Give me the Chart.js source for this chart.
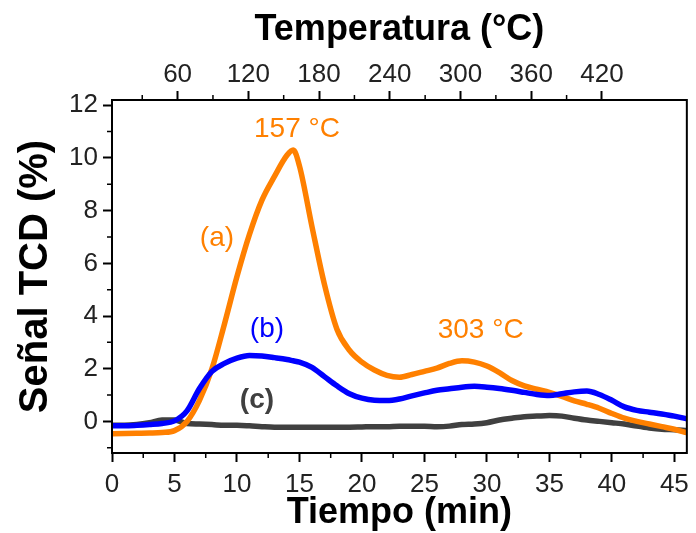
<!DOCTYPE html>
<html>
<head>
<meta charset="utf-8">
<script src="https://cdn.jsdelivr.net/npm/chart.js@4.4.0/dist/chart.umd.min.js"></script>
<style>
  body { margin: 0; background: #fff; }
  #wrap { width: 696px; height: 533px; }
</style>
</head>
<body>
<div id="wrap"><canvas id="tcd" width="696" height="533"></canvas></div>
<script>
// tiempo (min) y señal TCD (%)
var tiempo = [0, 1, 2, 3, 4, 5, 6, 7, 8, 9, 10, 11, 12, 13, 14, 14.5, 15, 16, 17, 18, 19, 20, 21, 22, 23,
  24, 25, 26, 27, 28, 29, 30, 31, 32, 33, 34, 35, 36, 37, 38, 39, 40, 41, 42, 43, 44, 45, 46]
// (a)
var senalA = [-0.47, -0.46, -0.45, -0.44, -0.42, -0.35, 0.0, 0.8, 2.0, 3.7, 5.5, 7.1, 8.4, 9.3, 10.1, 10.3, 9.7,
  7.4, 5.2, 3.5, 2.7, 2.25, 1.95, 1.75, 1.68, 1.78, 1.9, 2.02, 2.2, 2.3, 2.25, 2.1, 1.85, 1.55, 1.35, 1.22, 1.1,
  0.95, 0.78, 0.65, 0.5, 0.3, 0.12, 0.0, -0.1, -0.2, -0.3, -0.43]
// (b)
var senalB = [-0.17, -0.17, -0.15, -0.12, -0.08, 0.02, 0.4, 1.25, 1.9, 2.2, 2.4, 2.5, 2.48, 2.42, 2.35, 2.3, 2.25,
  2.05, 1.7, 1.35, 1.05, 0.88, 0.8, 0.79, 0.85, 0.97, 1.08, 1.18, 1.24, 1.3, 1.33, 1.3, 1.25, 1.18, 1.1, 1.02, 0.98,
  1.05, 1.12, 1.15, 1.02, 0.8, 0.55, 0.42, 0.35, 0.28, 0.2, 0.1]
// (c)
var senalC = [-0.15, -0.15, -0.12, -0.05, 0.05, 0.05, -0.08, -0.1, -0.12, -0.15, -0.15, -0.17, -0.2, -0.22, -0.22,
  -0.22, -0.22, -0.22, -0.22, -0.22, -0.22, -0.21, -0.2, -0.2, -0.18, -0.18, -0.18, -0.2, -0.18, -0.12, -0.1, -0.05,
  0.05, 0.12, 0.18, 0.2, 0.22, 0.2, 0.12, 0.05, 0.0, -0.05, -0.1, -0.18, -0.25, -0.3, -0.32, -0.35]

var tiempoTicks = [0, 5, 10, 15, 20, 25, 30, 35, 40, 45]
var tempTicks = [60, 120, 180, 240, 300, 360, 420]
var senalTicks = [0, 2, 4, 6, 8, 10, 12]

// etiquetas sobre las curvas, en coordenadas de datos
var etiquetas = [
  { text: '157 °C', t: 14.8, v: 11.1, color: '#FF8000', bold: false },
  { text: '(a)', t: 8.4, v: 6.95, color: '#FF8000', bold: false },
  { text: '(b)', t: 12.4, v: 3.5, color: '#0000FF', bold: false },
  { text: '(c)', t: 11.6, v: 0.8, color: '#404040', bold: true },
  { text: '303 °C', t: 29.5, v: 3.45, color: '#FF8000', bold: false }
]

function puntos (ys) {
  return tiempo.map(function (t, i) { return { x: t, y: ys[i] } })
}
function fijar (lista) {
  return function (sc) { sc.ticks = lista.map(function (v) { return { value: v } }) }
}

var FUENTE = "'Liberation Sans', Arial, sans-serif"
Chart.defaults.font.family = FUENTE
Chart.defaults.color = '#222'

var marcas = {
  id: 'marcas',
  afterDatasetsDraw: function (chart) {
    var ctx = chart.ctx
    var s = chart.scales
    ctx.save()
    ctx.textAlign = 'center'
    ctx.textBaseline = 'middle'
    etiquetas.forEach(function (e) {
      ctx.font = (e.bold ? 'bold ' : '') + '28px ' + FUENTE
      ctx.fillStyle = e.color
      ctx.fillText(e.text, s.x.getPixelForValue(e.t), s.y.getPixelForValue(e.v))
    })
    ctx.restore()
  },
  afterDraw: function (chart) {
    var ctx = chart.ctx
    var a = chart.chartArea
    var s = chart.scales
    var px, py, t, v, T
    ctx.save()
    ctx.strokeStyle = '#000'
    ctx.lineWidth = 2
    ctx.strokeRect(a.left, a.top, a.right - a.left, a.bottom - a.top)
    // marcas menores
    ctx.lineWidth = 1.5
    ctx.beginPath()
    for (t = 2.5; t < 46; t += 5) {
      px = s.x.getPixelForValue(t)
      ctx.moveTo(px, a.bottom); ctx.lineTo(px, a.bottom + 5)
    }
    for (v = -1; v < 12; v += 2) {
      py = s.y.getPixelForValue(v)
      ctx.moveTo(a.left, py); ctx.lineTo(a.left - 5, py)
    }
    for (T = 30; T < 420; T += 60) {
      px = s.x2.getPixelForValue(T)
      ctx.moveTo(px, a.top); ctx.lineTo(px, a.top - 5)
    }
    ctx.stroke()
    ctx.restore()
  }
}

new Chart(document.getElementById('tcd'), {
  type: 'line',
  data: {
    datasets: [
      { label: '(b)', data: puntos(senalB), borderColor: '#0000FF' },
      { label: '(a)', data: puntos(senalA), borderColor: '#FF8000' },
      { label: '(c)', data: puntos(senalC), borderColor: '#404040' }
    ]
  },
  options: {
    responsive: false,
    animation: false,
    layout: { padding: { left: 0, right: 5, top: 0, bottom: 0 } },
    elements: {
      point: { radius: 0 },
      line: { borderWidth: 5.5, cubicInterpolationMode: 'monotone' }
    },
    plugins: { legend: { display: false }, tooltip: { enabled: false } },
    scales: {
      x: {
        type: 'linear',
        position: 'bottom',
        min: 0,
        max: 46,
        afterBuildTicks: fijar(tiempoTicks),
        afterFit: function (sc) { sc.height = 80 },
        ticks: { font: { size: 26 }, padding: 7, maxRotation: 0, autoSkip: false },
        grid: { drawOnChartArea: false, tickLength: 9, tickWidth: 2, tickColor: '#000' },
        border: { color: '#000', width: 2 },
        title: {
          display: true,
          text: 'Tiempo (min)',
          color: '#000',
          font: { size: 36, weight: 'bold', lineHeight: 1 },
          padding: { top: 0, bottom: 2 }
        }
      },
      x2: {
        type: 'linear',
        position: 'top',
        min: 4.35,
        max: 492,
        afterBuildTicks: fijar(tempTicks),
        afterFit: function (sc) { sc.height = 100 },
        ticks: { font: { size: 26 }, padding: 1, maxRotation: 0, autoSkip: false },
        grid: { drawOnChartArea: false, tickLength: 9, tickWidth: 2, tickColor: '#000' },
        border: { color: '#000', width: 2 },
        title: {
          display: true,
          text: 'Temperatura (°C)',
          color: '#000',
          font: { size: 36, weight: 'bold', lineHeight: 1 },
          padding: { top: 12, bottom: 0 }
        }
      },
      y: {
        type: 'linear',
        position: 'left',
        min: -1.2,
        max: 12.2,
        afterBuildTicks: fijar(senalTicks),
        afterFit: function (sc) { sc.width = 112 },
        ticks: { font: { size: 26 }, padding: 5 },
        grid: { drawOnChartArea: false, tickLength: 9, tickWidth: 2, tickColor: '#000' },
        border: { color: '#000', width: 2 },
        title: {
          display: true,
          text: 'Señal TCD (%)',
          color: '#000',
          font: { size: 40, weight: 'bold' },
          padding: { top: 12, bottom: 0 }
        }
      }
    }
  },
  plugins: [marcas]
})
</script>
</body>
</html>
